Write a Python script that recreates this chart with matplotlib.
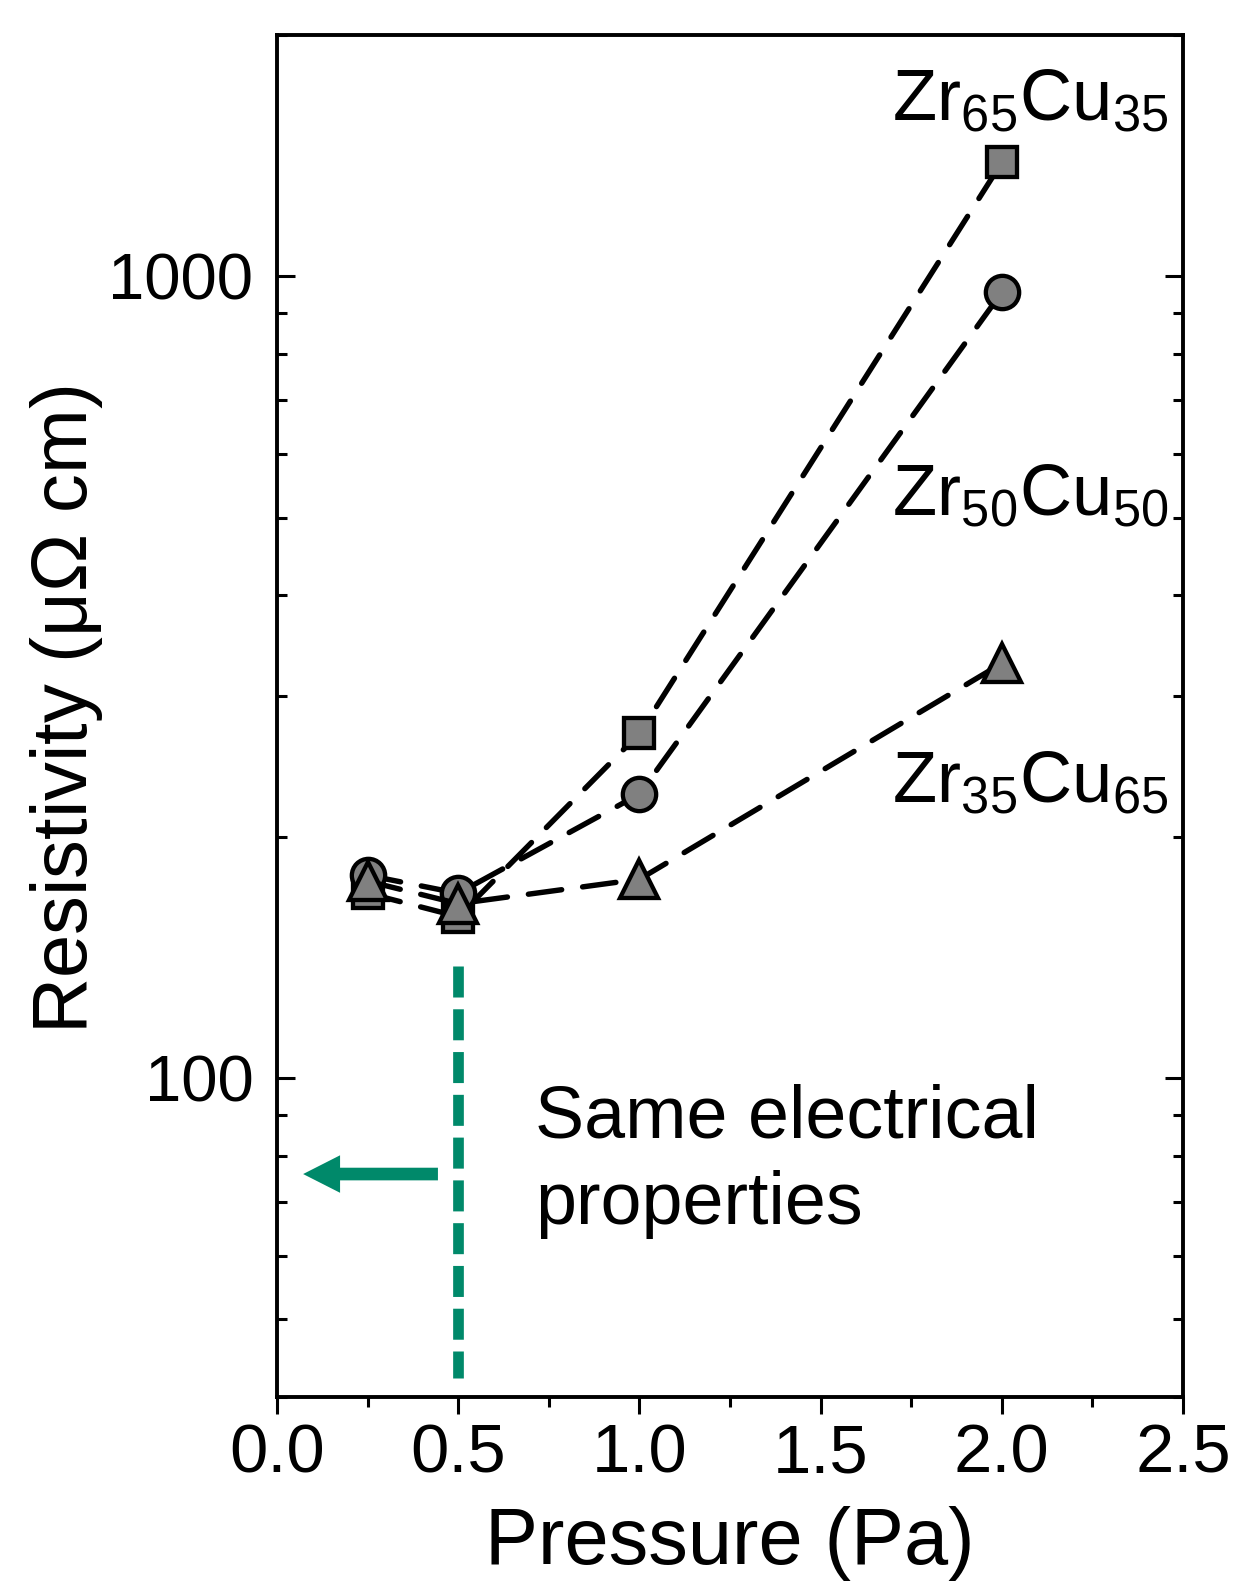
"""
Resistivity vs sputtering pressure for ZrCu films
"""

import numpy as np
import matplotlib
matplotlib.use('Agg')
import matplotlib.pyplot as plt
from matplotlib import ticker, font_manager

# data
pressure = [0.25, 0.5, 1.0, 2.0]
rho_zr65 = [170, 159, 269, 1387]
rho_zr50 = [179, 170, 226, 955]
rho_zr35 = [176, 165, 177, 329]

labels = [r'Zr$_\mathregular{65}$Cu$_\mathregular{35}$',
          r'Zr$_\mathregular{50}$Cu$_\mathregular{50}$',
          r'Zr$_\mathregular{35}$Cu$_\mathregular{65}$']

x_ticks = [0.0, 0.5, 1.0, 1.5, 2.0, 2.5]
same_p = 0.5
green = '#00896A'

# fonts
names = {f.name for f in font_manager.fontManager.ttflist}
narrow = 'Liberation Sans Narrow' if 'Liberation Sans Narrow' in names else 'Liberation Sans'
nscale = 1.0 if narrow == 'Liberation Sans Narrow' else 0.84

plt.rcParams['font.family'] = ['Liberation Sans', 'DejaVu Sans']
plt.rcParams['mathtext.fontset'] = 'custom'
plt.rcParams['mathtext.rm'] = 'Liberation Sans'

fig = plt.figure(figsize=(12.34, 15.82), dpi=100)
ax = fig.add_axes([0.2245, 0.1169, 0.7342, 0.8610])

line_kw = dict(color='black', lw=3.9, dashes=(6.2, 3.9), dash_capstyle='round',
               mfc='#808080', mec='black', mew=3.1)
ax.plot(pressure, rho_zr65, marker='s', ms=21, **line_kw)
ax.plot(pressure, rho_zr50, marker='o', ms=24, **line_kw)
ax.plot(pressure, rho_zr35, marker='^', ms=27, **line_kw)

# green guide line + arrow
ax.plot([same_p, same_p], [138, 42.3], color=green, lw=7.7, dashes=(2.9, 1.1))
ax.annotate('', xy=(0.072, 75.9), xytext=(0.444, 75.9),
            arrowprops=dict(arrowstyle='simple,head_length=26.6,head_width=27,tail_width=9.1',
                            mutation_scale=1, color=green, lw=0,
                            shrinkA=0, shrinkB=0))

ax.text(0.2848, 0.127, 'Same electrical\nproperties', transform=ax.transAxes,
        fontsize=53, ha='left', va='baseline', linespacing=1.33)
ax.text(0.679, 0.9376, labels[0], transform=ax.transAxes, fontsize=52,
        ha='left', va='baseline')
ax.text(0.679, 0.6476, labels[1], transform=ax.transAxes, fontsize=52,
        ha='left', va='baseline')
ax.text(0.679, 0.4369, labels[2], transform=ax.transAxes, fontsize=52,
        ha='left', va='baseline')

ax.set_yscale('log')
ax.set_ylim(40, 2000)
ax.set_xlim(0, 2.5)

ax.yaxis.set_major_locator(ticker.LogLocator(base=10, subs=[1.0]))
ax.yaxis.set_minor_locator(ticker.LogLocator(base=10, subs=np.arange(2, 10)))
ax.yaxis.set_major_formatter(ticker.FuncFormatter(lambda v, p: f'{v:g}'))
ax.yaxis.set_minor_formatter(ticker.NullFormatter())
ax.set_xticks(x_ticks)
ax.set_xticklabels([f'{v:.1f}' for v in x_ticks])
ax.xaxis.set_minor_locator(ticker.MultipleLocator(0.25))

ax.tick_params(axis='y', which='both', direction='in', left=True, right=True, width=2.2)
ax.tick_params(axis='y', which='major', length=13, pad=17, labelsize=47)
ax.tick_params(axis='y', which='minor', length=7)
ax.tick_params(axis='x', which='both', direction='out', top=False, width=2.2)
ax.tick_params(axis='x', which='major', length=12, pad=6, labelsize=59 * nscale)
ax.tick_params(axis='x', which='minor', length=7)
for lab in ax.get_xticklabels():
    lab.set_family(narrow)

for s in ax.spines.values():
    s.set_linewidth(2.8)

ax.set_ylabel(r'Resistivity ($\mathregular{\mu\Omega}$ cm)', fontsize=56)
ax.yaxis.set_label_coords(-0.19, 0.505)
ax.set_xlabel('Pressure (Pa)', fontsize=68 * nscale, family=narrow, va='top')
ax.xaxis.set_label_coords(0.5, -0.08)

fig.savefig('out.png', dpi=100)
